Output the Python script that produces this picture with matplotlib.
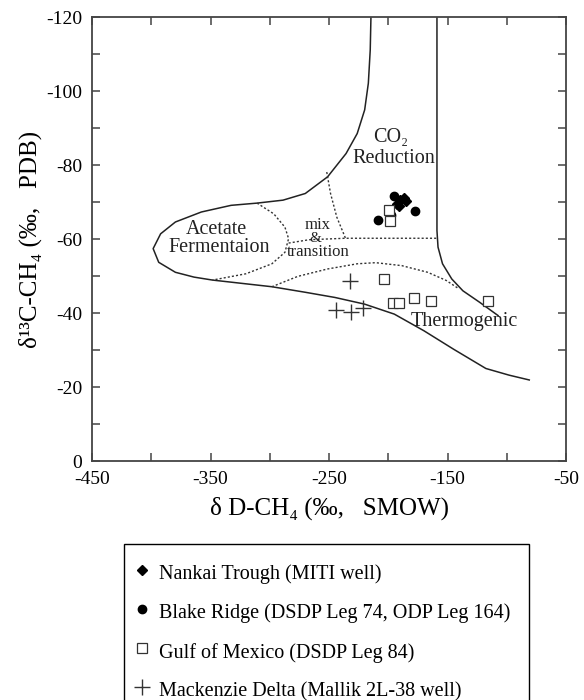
import numpy as np
import matplotlib
matplotlib.use("Agg")
import matplotlib.pyplot as plt

plt.rcParams['font.family'] = ['Liberation Serif', 'DejaVu Serif']
plt.rcParams['axes.unicode_minus'] = False

# sample data (dD, d13C)
nankai_d = [-193, -190, -187, -185, -191]
nankai_c = [-69.5, -70.5, -71.0, -70.2, -68.8]

blake_d = [-194.9, -208.9, -197.6, -177.2]
blake_c = [-71.7, -65.1, -66.5, -67.6]

gulf_d = [-199.6, -198.5, -203.3, -195.7, -191.2, -178.0, -163.9, -115.7]
gulf_c = [-67.8, -64.9, -49.1, -42.8, -42.8, -44.0, -43.3, -43.3]

mack_d = [-232.7, -244.5, -231.3, -221.5]
mack_c = [-48.7, -40.8, -40.4, -41.3]

# field boundaries
outer_d = [-214.6, -215.2, -216.8, -219.9, -226.2, -235.6, -251.2, -270.0, -288.8,
           -310.7, -332.6, -357.7, -379.6, -392.1, -398.4, -393.7, -379.6, -363.9,
           -348.3, -323.3, -298.2, -270.0, -245.0, -220.0, -194.9, -169.9, -144.8,
           -117.6, -98.0, -81.0]
outer_c = [-120.0, -111.1, -102.1, -94.9, -88.5, -83.1, -76.8, -72.3, -70.5,
           -69.7, -69.1, -67.3, -64.6, -61.4, -57.4, -53.7, -51.0, -49.7,
           -48.9, -48.0, -47.1, -45.6, -44.2, -42.4, -39.7, -35.2, -30.2,
           -25.0, -23.2, -21.9]

right_d = [-158.9, -158.9, -158.0, -154.2, -146.4, -137.0, -122.9, -107.3]
right_c = [-120.0, -62.3, -57.8, -53.3, -49.2, -46.0, -42.9, -39.3]

acet_d = [-310.7, -296.6, -287.2, -284.1, -287.2, -298.2, -320.1, -348.3]
acet_c = [-69.7, -66.8, -63.2, -60.1, -56.4, -53.3, -50.6, -48.9]

co2_d = [-251.9, -248.7, -243.4, -236.2]
co2_c = [-78.1, -72.3, -65.9, -60.3]

mix_d = [-284.1, -266.9, -236.2, -158.0]
mix_c = [-58.9, -59.8, -60.2, -60.2]

thermo_d = [-298.2, -276.3, -251.2, -226.2, -210.6, -188.6, -166.7, -151.1, -140.2]
thermo_c = [-47.1, -49.9, -51.9, -53.3, -53.6, -52.8, -51.0, -48.8, -46.5]

W, H = 584, 700
fig = plt.figure(figsize=(W / 100, H / 100), dpi=100)
ax = fig.add_axes([92 / W, 1 - 461 / H, (566 - 92) / W, (461 - 17) / H])

ax.plot(outer_d, outer_c, color='#222222', lw=1.1)
ax.plot(right_d, right_c, color='#222222', lw=1.1)
dot = (0, (1.5, 1.5))
for xs, ys in [(acet_d, acet_c), (co2_d, co2_c), (mix_d, mix_c), (thermo_d, thermo_c)]:
    ax.plot(xs, ys, color='#333333', lw=1.0, linestyle=dot)

h1, = ax.plot(nankai_d, nankai_c, 'D', color='black', ms=5.5, linestyle='none',
              label='Nankai Trough (MITI well)')
h2, = ax.plot(blake_d, blake_c, 'o', color='black', ms=6, linestyle='none',
              label='Blake Ridge (DSDP Leg 74, ODP Leg 164)')
h3, = ax.plot(gulf_d, gulf_c, 's', mfc='white', mec='#333333', mew=0.9, ms=7,
              linestyle='none', label='Gulf of Mexico (DSDP Leg 84)')
h4, = ax.plot(mack_d, mack_c, '+', color='#333333', mew=1.0, ms=11,
              linestyle='none', label='Mackenzie Delta (Mallik 2L-38 well)')

# region labels
tc = '#222222'
ax.text(-197.6, -87.4, 'CO₂', fontsize=14.5, ha='center', va='center', color=tc)
ax.text(-195.7, -81.8, 'Reduction', fontsize=14.5, ha='center', va='center', color=tc)
ax.text(-345, -62.5, 'Acetate', fontsize=14.5, ha='center', va='center', color=tc)
ax.text(-343, -57.6, 'Fermentaion', fontsize=14.5, ha='center', va='center', color=tc)
ax.text(-259.4, -63.8, 'mix', fontsize=12, ha='center', va='center', color=tc)
ax.text(-261.4, -60.1, '&', fontsize=11, ha='center', va='center', color=tc)
ax.text(-259.4, -56.6, 'transition', fontsize=12, ha='center', va='center', color=tc)
ax.text(-135.9, -37.6, 'Thermogenic', fontsize=14.5, ha='center', va='center', color=tc)

ax.set_xlim(-450, -50)
ax.set_ylim(0, -120)
ax.set_xticks(np.arange(-450, -49, 100))
ax.set_xticks(np.arange(-400, -50, 100), minor=True)
ax.set_yticks(np.arange(-120, 1, 20))
ax.set_yticks(np.arange(-110, 0, 20), minor=True)
ax.tick_params(which='both', direction='in', top=True, right=True, length=6,
               width=1.1, color='#444444', labelsize=14)
ax.tick_params(axis='x', pad=7)
ax.tick_params(axis='y', pad=7)
for s in ax.spines.values():
    s.set_color('#444444')
    s.set_linewidth(1.3)

ax.set_xlabel('δ D-CH₄ (‰,   SMOW)', fontsize=18)
ax.xaxis.set_label_coords(0.5, -0.08)
ax.set_ylabel('δ¹³C-CH₄ (‰,   PDB)', fontsize=18)
ax.yaxis.set_label_coords(-0.105, 0.5)

leg = fig.legend(handles=[h1, h2, h3, h4], loc='upper left',
                 bbox_to_anchor=(124 / W, 0, (529 - 124) / W, 1 - 544 / H),
                 bbox_transform=fig.transFigure, mode='expand', fontsize=14.5,
                 frameon=True, fancybox=False, edgecolor='black', framealpha=1,
                 borderpad=0.85, handlelength=0.1, handletextpad=0.8,
                 handleheight=1.4, labelspacing=0.78, borderaxespad=0)
leg.get_frame().set_linewidth(1.0)

fig.savefig('out.png', dpi=100)
